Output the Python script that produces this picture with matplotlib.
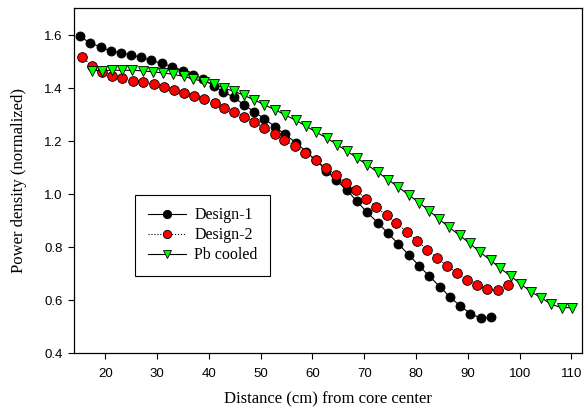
import matplotlib
matplotlib.use("Agg")
import matplotlib.pyplot as plt

# Design-1
x1 = [15.0, 17.0, 19.1, 21.0, 23.0, 24.9, 26.9, 28.9, 30.9, 32.9, 34.9, 36.9, 38.9, 40.9,
      42.8, 44.8, 46.7, 48.7, 50.7, 52.8, 54.7, 56.8, 58.8, 60.7, 62.7, 64.6, 66.7, 68.6,
      70.5, 72.6, 74.6, 76.6, 78.6, 80.6, 82.6, 84.6, 86.5, 88.5, 90.5, 92.5, 94.4]
y1 = [1.597, 1.570, 1.555, 1.540, 1.532, 1.525, 1.516, 1.504, 1.493, 1.481, 1.466, 1.451,
      1.434, 1.408, 1.386, 1.365, 1.338, 1.311, 1.284, 1.254, 1.225, 1.194, 1.160, 1.127,
      1.089, 1.052, 1.014, 0.973, 0.932, 0.893, 0.852, 0.812, 0.771, 0.730, 0.690, 0.651,
      0.613, 0.579, 0.550, 0.532, 0.535]

# Design-2
x2 = [15.5, 17.5, 19.3, 21.3, 23.3, 25.3, 27.3, 29.3, 31.3, 33.3, 35.2, 37.2, 39.1, 41.1,
      42.9, 44.8, 46.8, 48.8, 50.7, 52.7, 54.5, 56.7, 58.6, 60.7, 62.6, 64.5, 66.5, 68.4,
      70.3, 72.3, 74.3, 76.2, 78.3, 80.2, 82.1, 84.1, 86.0, 88.0, 89.9, 91.8, 93.8, 95.8, 97.7]
y2 = [1.516, 1.482, 1.459, 1.447, 1.438, 1.428, 1.422, 1.414, 1.405, 1.393, 1.382, 1.370,
      1.358, 1.343, 1.326, 1.309, 1.292, 1.271, 1.250, 1.228, 1.205, 1.181, 1.156, 1.127,
      1.100, 1.073, 1.043, 1.014, 0.983, 0.951, 0.920, 0.890, 0.856, 0.824, 0.791, 0.760,
      0.730, 0.701, 0.677, 0.656, 0.641, 0.638, 0.657]

# Pb cooled
x3 = [17.4, 19.3, 21.3, 23.3, 25.2, 27.2, 29.2, 31.1, 33.1, 35.1, 37.0, 39.1, 41.0, 42.9,
      44.9, 46.8, 48.8, 50.7, 52.8, 54.7, 56.8, 58.8, 60.7, 62.8, 64.7, 66.7, 68.6, 70.6,
      72.6, 74.6, 76.6, 78.6, 80.6, 82.5, 84.5, 86.4, 88.4, 90.4, 92.3, 94.4, 96.3, 98.3,
      100.3, 102.2, 104.2, 106.1, 108.1, 110.1]
y3 = [1.466, 1.466, 1.467, 1.467, 1.467, 1.465, 1.461, 1.457, 1.452, 1.444, 1.434, 1.424,
      1.416, 1.399, 1.388, 1.372, 1.355, 1.337, 1.318, 1.299, 1.278, 1.256, 1.234, 1.211,
      1.187, 1.162, 1.136, 1.110, 1.083, 1.055, 1.026, 0.997, 0.968, 0.938, 0.905, 0.875,
      0.845, 0.814, 0.782, 0.751, 0.720, 0.691, 0.660, 0.632, 0.609, 0.585, 0.572, 0.572]

xticks = [20, 30, 40, 50, 60, 70, 80, 90, 100, 110]
yticks = [0.4, 0.6, 0.8, 1.0, 1.2, 1.4, 1.6]

fig = plt.figure(figsize=(5.88, 4.12), dpi=100)
ax = fig.add_axes([0.1264, 0.1425, 0.8629, 0.8369])

ax.plot(x1, y1, '-', color='black', lw=0.8, marker='o', ms=6.5,
        mfc='black', mec='black', mew=0.6, label='Design-1')
ax.plot(x2, y2, ':', color='black', lw=0.8, marker='o', ms=7,
        mfc='#ff0000', mec='black', mew=0.6, label='Design-2')
ax.plot(x3, y3, '-', color='black', lw=0.8, marker='v', ms=7,
        mfc='#00ff00', mec='black', mew=0.6, label='Pb cooled')

ax.set_xlim(14, 112)
ax.set_ylim(0.4, 1.7)
ax.set_xticks(xticks)
ax.set_yticks(yticks)
ax.set_yticklabels(['%.1f' % v for v in yticks])
ax.tick_params(direction='out', length=4.5, width=0.8, labelsize=9.5,
               top=False, right=False)
ax.tick_params(axis='x', pad=6)
ax.tick_params(axis='y', pad=4)
for lab in ax.get_xticklabels() + ax.get_yticklabels():
    lab.set_family('Liberation Sans')
for s in ax.spines.values():
    s.set_linewidth(0.9)

ax.set_xlabel('Distance (cm) from core center', family='Liberation Serif',
              fontsize=12, labelpad=8)
ax.set_ylabel('Power density (normalized)', family='Liberation Serif',
              fontsize=12, labelpad=12)

leg = ax.legend(loc='lower left', bbox_to_anchor=(0.12, 0.224), borderaxespad=0,
                prop={'family': 'Liberation Serif', 'size': 11.5},
                fancybox=False, edgecolor='black', framealpha=1,
                handlelength=2.4, handletextpad=0.5, labelspacing=0.25,
                borderpad=0.8)
leg.get_frame().set_linewidth(0.8)
for h in leg.legend_handles:
    h.set_markersize(6)

fig.savefig('out.png', dpi=100)
